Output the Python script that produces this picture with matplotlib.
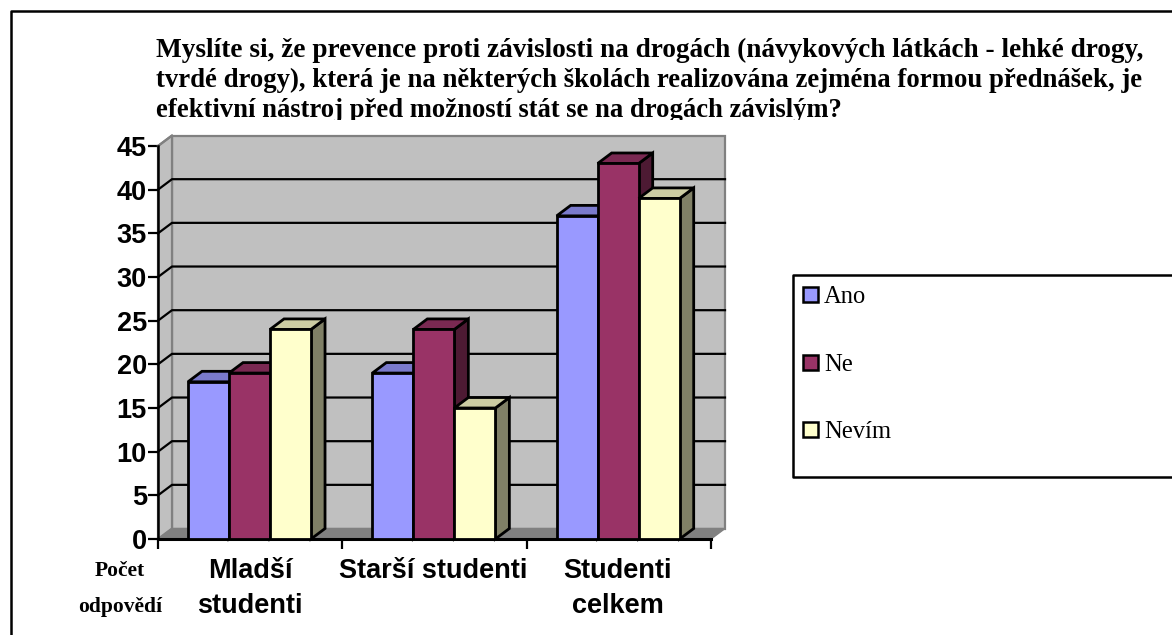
import numpy as np
import matplotlib
matplotlib.use('Agg')
import matplotlib.pyplot as plt
from matplotlib.patches import Polygon, Rectangle
from matplotlib.transforms import Bbox

categories = ['Mladší\nstudenti', 'Starší studenti', 'Studenti\ncelkem']
series_names = ['Ano', 'Ne', 'Nevím']
ano = [18, 19, 37]
ne = [19, 24, 43]
nevim = [24, 15, 39]
yticks = [0, 5, 10, 15, 20, 25, 30, 35, 40, 45]

title_lines = ['Myslíte si, že prevence proti závislosti na drogách (návykových látkách - lehké drogy,',
               'tvrdé drogy), která je na některých školách realizována zejména formou přednášek, je',
               'efektivní nástroj před možností stát se na drogách závislým?']

W, H = 1172, 635
fig = plt.figure(figsize=(W/100, H/100), dpi=100)

# frame of the whole chart, no right or bottom edge in the picture
bg = fig.add_axes([0, 0, 1, 1])
bg.set_xlim(0, W)
bg.set_ylim(H, 0)
bg.axis('off')
bg.plot([1172, 11, 11], [10.5, 10.5, 640], color='black', lw=1.8)
bg.plot([1172, 793, 793, 1172], [275, 275, 477, 477], color='black', lw=1.8)

# plot area, front plane of the fake 3d box
ax = fig.add_axes([158/W, 1-539/H, (711-158)/W, (539-146)/H])
ax.set_xlim(0, 3)
ax.set_ylim(0, 45)
ax.patch.set_alpha(0)
for s in ['top', 'right']:
    ax.spines[s].set_visible(False)
ax.spines['left'].set_linewidth(1.8)
ax.spines['bottom'].set_linewidth(2.2)

dx = 14/184.3
dy = 1.2

# back wall, side wall and floor
ax.add_patch(Polygon([(dx, dy), (3+dx, dy), (3+dx, 45+dy), (dx, 45+dy)], fc='#c0c0c0', ec='#808080', lw=1.6, clip_on=False, zorder=1))
ax.add_patch(Polygon([(0, 0), (dx, dy), (dx, 45+dy), (0, 45)], fc='#c0c0c0', ec='#808080', lw=1.6, clip_on=False, zorder=1))
ax.add_patch(Polygon([(0, 0), (dx, dy), (3+dx, dy), (3, 0)], fc='#808080', ec='#808080', lw=1, clip_on=False, zorder=1))
for v in yticks[1:-1]:
    ax.plot([0, dx, 3+dx], [v, v+dy, v+dy], color='black', lw=1.6, clip_on=False, zorder=2)
ax.plot([0, dx], [45, 45+dy], color='#808080', lw=1.6, clip_on=False, zorder=2)

colors = ['#9999ff', '#993366', '#ffffcc']
tops = ['#7a7acc', '#7a2952', '#cccca3']
sides = ['#4d4d80', '#4d1a33', '#808066']
bar_w = 41/184.3
start = 30/184.3
for i, vals in enumerate([ano, ne, nevim]):
    for c, v in enumerate(vals):
        x0 = c + start + i*bar_w
        x1 = x0 + bar_w
        z = 3 + c*3 + i*0.1
        ax.add_patch(Polygon([(x1, 0), (x1+dx, dy), (x1+dx, v+dy), (x1, v)], fc=sides[i], ec='black', lw=2, clip_on=False, zorder=z))
        ax.add_patch(Polygon([(x0, v), (x0+dx, v+dy), (x1+dx, v+dy), (x1, v)], fc=tops[i], ec='black', lw=2, clip_on=False, zorder=z))
        ax.add_patch(Rectangle((x0, 0), bar_w, v, fc=colors[i], ec='black', lw=2, clip_on=False, zorder=z+0.05))

ax.set_yticks(yticks)
ax.set_yticklabels([str(v) for v in yticks], family='Liberation Sans', fontweight='bold', fontsize=19.5)
ax.set_xticks([0, 1, 2, 3])
ax.set_xticklabels([])
ax.tick_params(axis='both', width=1.6, length=7, color='black', pad=0)
ax.tick_params(axis='y', pad=1)

# category labels, drawn line by line
for x_px, lab in zip([250, 433, 618], categories):
    for y_px, part in zip([578, 613], lab.split('\n')):
        bg.text(x_px, y_px, part, ha='center', va='baseline', family='Liberation Sans', fontweight='bold', fontsize=19.5)

# title is cut off under the third line in the original
clip = Bbox([[0, H-120], [W, H]])
for y_px, size, line in zip([57, 87, 117], [19.63, 19.3, 19.2], title_lines):
    t = fig.text(156.5/W, 1-y_px/H, line, family='Liberation Serif', fontweight='bold', fontsize=size,
                 ha='left', va='baseline')
    t.set_clip_box(clip)
    t.set_clip_on(True)

bg.text(120, 576, 'Počet', ha='center', va='baseline', family='Liberation Serif', fontweight='bold', fontsize=15.5)
bg.text(120, 612, 'odpovědí', ha='center', va='baseline', family='Liberation Serif', fontweight='bold', fontsize=15.5)

# legend
for y_px, name, col in zip([303, 371, 438], series_names, colors):
    bg.add_patch(Rectangle((803, y_px-16), 15, 15, fc=col, ec='black', lw=1.8))
    bg.text(824, y_px, name, ha='left', va='baseline', family='Liberation Serif', fontsize=17.7)

fig.savefig('out.png', dpi=100)
